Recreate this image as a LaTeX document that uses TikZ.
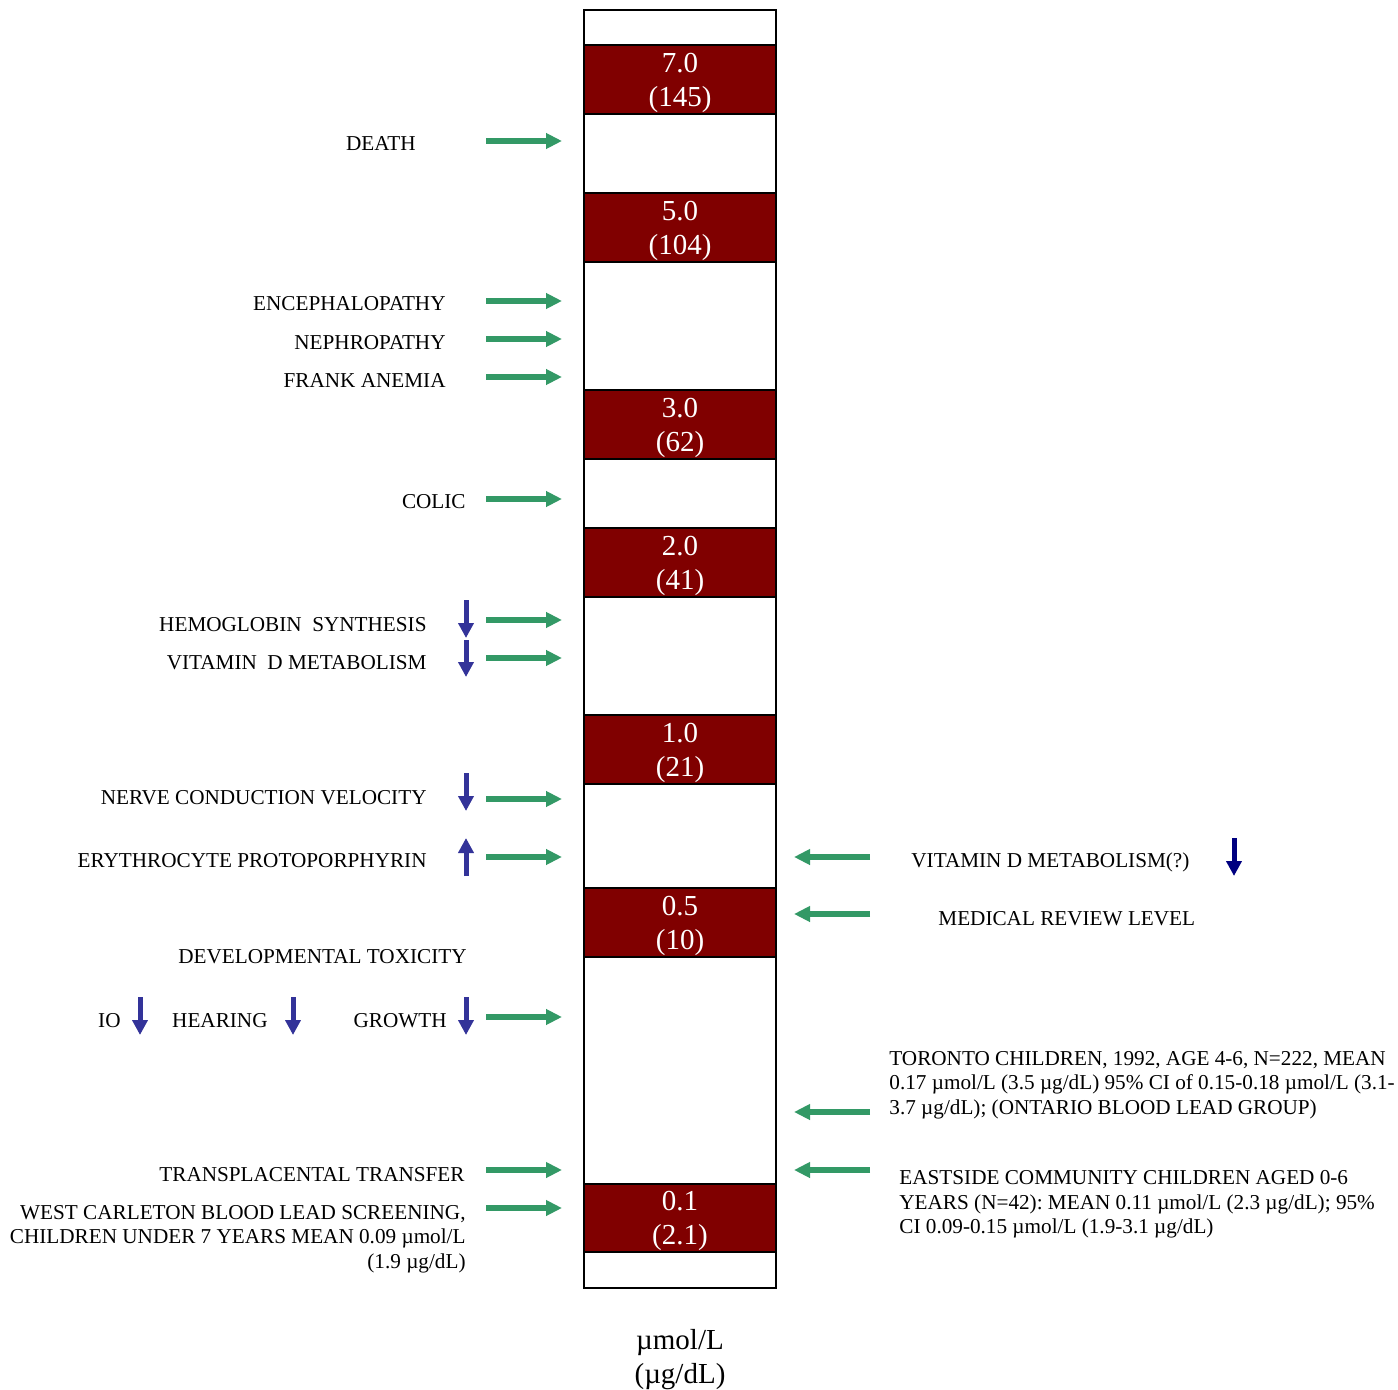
\documentclass[tikz,border=0pt]{standalone}
\usepackage{fontspec}
\setmainfont{Liberation Serif}
\usetikzlibrary{arrows.meta}
\definecolor{bandred}{HTML}{800000}
\definecolor{grn}{HTML}{339966}
\definecolor{blu}{HTML}{333399}
\definecolor{navyc}{HTML}{000080}
\frenchspacing
\begin{document}
\begin{tikzpicture}[x=0.5pt,y=-0.5pt,
  lbl/.style={font=\fontsize{10.6}{12.25}\selectfont, inner sep=0pt},
  val/.style={font=\fontsize{14.5}{17}\selectfont, text=white, align=center, inner sep=0pt},
  band/.style={fill=bandred, draw=black, line width=1pt},
  garrow/.style={draw=grn, line width=2.7pt, -{Triangle[length=8pt,width=7.5pt]}},
  barrow/.style={draw=blu, line width=2.5pt, -{Triangle[length=7.5pt,width=7.5pt]}},
  narrow/.style={draw=navyc, line width=2.5pt, -{Triangle[length=7.5pt,width=7.5pt]}},
]
\useasboundingbox (0,0) rectangle (1398,1390);
% bar
\fill[white] (584,10) rectangle (776,1288);
\path[band] (584,45) rectangle (776,114);
\path[band] (584,193) rectangle (776,262);
\path[band] (584,390) rectangle (776,459);
\path[band] (584,528) rectangle (776,597);
\path[band] (584,715) rectangle (776,784);
\path[band] (584,888) rectangle (776,957);
\path[band] (584,1184) rectangle (776,1252);
\draw[line width=1.2pt] (584,10) rectangle (776,1288);
\node[val] (v7) at (680,83) {7.0\\(145)};
\node[val] (v5) at (680,231) {5.0\\(104)};
\node[val] (v3) at (680,428) {3.0\\(62)};
\node[val] (v2) at (680,566) {2.0\\(41)};
\node[val] (v1) at (680,753) {1.0\\(21)};
\node[val] (v05) at (680,926) {0.5\\(10)};
\node[val] (v01) at (680,1221) {0.1\\(2.1)};
\node[val, text=black] (unit) at (680,1360) {µmol/L\\(µg/dL)};
% left labels
\node[lbl, anchor=base east] (death) at (416,151) {DEATH};
\node[lbl, anchor=base east] (enc) at (446,311) {ENCEPHALOPATHY};
\node[lbl, anchor=base east] (neph) at (446,350) {NEPHROPATHY};
\node[lbl, anchor=base east] (fa) at (446,388) {FRANK ANEMIA};
\node[lbl, anchor=base east] (colic) at (466,509) {COLIC};
\node[lbl, anchor=base east] (hemo) at (427,631) {HEMOGLOBIN\ \ SYNTHESIS};
\node[lbl, anchor=base east] (vitd) at (427,669) {VITAMIN\ \ D METABOLISM};
\node[lbl, anchor=base east] (ncv) at (427,804) {NERVE CONDUCTION VELOCITY};
\node[lbl, anchor=base east] (ep) at (427,867) {ERYTHROCYTE PROTOPORPHYRIN};
\node[lbl, anchor=base east] (dev) at (467,963) {DEVELOPMENTAL TOXICITY};
\node[lbl, anchor=base east] (io) at (121,1027) {IO};
\node[lbl, anchor=base east] (hear) at (268,1027) {HEARING};
\node[lbl, anchor=base east] (grow) at (447,1027) {GROWTH};
\node[lbl, anchor=base east] (trans) at (465,1181) {TRANSPLACENTAL TRANSFER};
\node[lbl, anchor=north east, align=right] (west) at (466,1205) {WEST CARLETON BLOOD LEAD SCREENING,\\CHILDREN UNDER 7 YEARS MEAN 0.09 µmol/L\\(1.9 µg/dL)};
% right labels
\node[lbl, anchor=base west] (rvit) at (911,867) {VITAMIN D METABOLISM(?)};
\node[lbl, anchor=base west] (med) at (938,925) {MEDICAL REVIEW LEVEL};
\node[lbl, anchor=north west, align=left] (tor) at (889,1051) {TORONTO CHILDREN, 1992, AGE 4-6, N=222, MEAN\\0.17 µmol/L (3.5 µg/dL) 95\% CI of 0.15-0.18 µmol/L (3.1-\\3.7 µg/dL); (ONTARIO BLOOD LEAD GROUP)};
\node[lbl, anchor=north west, align=left] (east) at (899,1170) {EASTSIDE COMMUNITY CHILDREN AGED 0-6\\YEARS (N=42): MEAN 0.11 µmol/L (2.3 µg/dL); 95\%\\CI 0.09-0.15 µmol/L (1.9-3.1 µg/dL)};
% green arrows (left side)
\foreach \yy in {141,301,339,377,499,620,658,799,857,1017,1170,1208}
  \draw[garrow] (486,\yy) -- (562,\yy);
% green arrows (right side)
\foreach \yy in {857,914,1112,1170}
  \draw[garrow] (870,\yy) -- (794,\yy);
% blue arrows
\draw[barrow] (466,600) -- (466,638);
\draw[barrow] (466,640) -- (466,677);
\draw[barrow] (466,773) -- (466,811);
\draw[barrow] (466,876) -- (466,838);
\draw[barrow] (140,997) -- (140,1035);
\draw[barrow] (293,997) -- (293,1035);
\draw[barrow] (466,997) -- (466,1035);
\draw[narrow] (1234,838) -- (1234,876);
\end{tikzpicture}
\end{document}
